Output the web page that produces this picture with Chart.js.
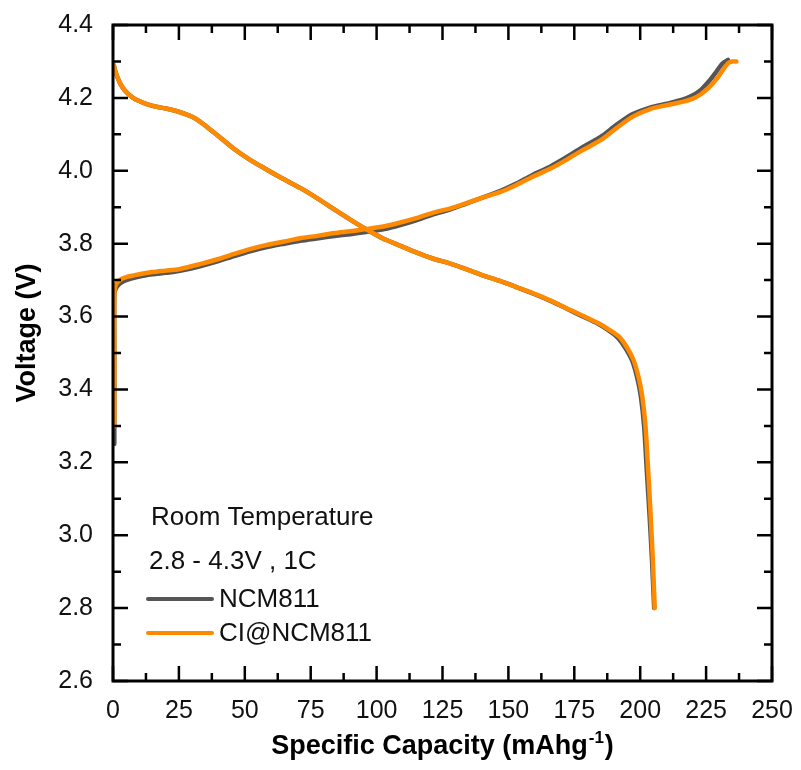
<!DOCTYPE html>
<html>
<head>
<meta charset="utf-8">
<script src="https://cdn.jsdelivr.net/npm/chart.js@4.4.1/dist/chart.umd.min.js"></script>
<style>
  html, body { margin: 0; padding: 0; background: #ffffff; }
  #wrap { width: 801px; height: 770px; }
</style>
</head>
<body>
<div id="wrap"><canvas id="c" width="801" height="770"></canvas></div>
<script>
// ---------- data ----------
const seriesNames = ['NCM811', 'CI@NCM811'];
const seriesColors = ['#555555', '#ff8a00'];
const annotationLines = ['Room Temperature', '2.8 - 4.3V , 1C'];

const xTickValues = [0, 25, 50, 75, 100, 125, 150, 175, 200, 225, 250];
const yTickValues = [2.6, 2.8, 3.0, 3.2, 3.4, 3.6, 3.8, 4.0, 4.2, 4.4];
const xTitle = 'Specific Capacity (mAhg';
const xTitleSup = '-1';
const xTitleEnd = ')';
const yTitle = 'Voltage (V)';

// NCM811 – charge
const ncmChargeCap = [0.5, 0.5, 0.5, 1.0, 2.5, 5, 10, 15, 20, 25, 33, 40, 46, 52, 58, 65, 71, 78, 84, 90, 96, 103, 109, 115, 121, 128, 134, 140, 147, 153, 159, 166, 172, 178, 185, 191, 197, 204, 210, 216, 220, 223, 226, 229, 231.3, 233.3];
const ncmChargeV   = [3.25, 3.50, 3.66, 3.676, 3.690, 3.700, 3.710, 3.716, 3.720, 3.725, 3.738, 3.752, 3.766, 3.779, 3.790, 3.800, 3.808, 3.815, 3.821, 3.826, 3.832, 3.840, 3.851, 3.864, 3.879, 3.894, 3.910, 3.926, 3.945, 3.965, 3.988, 4.012, 4.037, 4.064, 4.093, 4.126, 4.155, 4.174, 4.184, 4.195, 4.207, 4.222, 4.245, 4.273, 4.295, 4.304];
// NCM811 – discharge
const ncmDischCap = [0.3, 0.8, 1.5, 2.7, 4.5, 7.6, 11, 14, 17, 20.5, 24, 27, 30, 33, 36, 39.5, 45.6, 52, 58.4, 64.5, 71, 77.4, 83.5, 90, 96.4, 102.4, 109, 115, 121, 128, 134, 140, 147, 153, 159, 166, 172, 178, 184, 188, 191.5, 194.5, 197, 199, 200.3, 201.5, 202.5, 203.6, 204.5, 205.3];
const ncmDischV   = [4.29, 4.275, 4.26, 4.24, 4.22, 4.20, 4.188, 4.18, 4.175, 4.17, 4.164, 4.157, 4.148, 4.135, 4.118, 4.098, 4.062, 4.030, 4.003, 3.978, 3.953, 3.925, 3.896, 3.866, 3.838, 3.814, 3.794, 3.776, 3.760, 3.745, 3.730, 3.714, 3.697, 3.681, 3.664, 3.643, 3.622, 3.601, 3.580, 3.562, 3.542, 3.512, 3.478, 3.428, 3.378, 3.298, 3.178, 3.048, 2.928, 2.80];

// CI@NCM811 – charge
const ciChargeCap = [0.5, 0.5, 0.5, 1.0, 2.5, 5, 10, 15, 20, 25, 33, 40, 46, 52, 58, 65, 71, 78, 84, 90, 96, 103, 109, 115, 121, 128, 134, 140, 147, 153, 159, 166, 172, 178, 185, 191, 197, 204, 210, 216, 220, 223, 226, 229, 231.5, 233.5, 235, 236.5];
const ciChargeV   = [3.30, 3.50, 3.66, 3.686, 3.700, 3.708, 3.716, 3.722, 3.726, 3.730, 3.744, 3.758, 3.772, 3.785, 3.796, 3.806, 3.815, 3.822, 3.829, 3.834, 3.840, 3.848, 3.858, 3.870, 3.884, 3.897, 3.911, 3.926, 3.942, 3.961, 3.983, 4.006, 4.030, 4.056, 4.084, 4.117, 4.148, 4.170, 4.180, 4.189, 4.198, 4.210, 4.228, 4.252, 4.278, 4.296, 4.300, 4.300];
// CI@NCM811 – discharge
const ciDischCap = [0.3, 0.8, 1.5, 2.7, 4.5, 7.6, 11, 14, 17, 20.5, 24, 27, 30, 33, 36, 39.5, 45.6, 52, 58.4, 64.5, 71, 77.4, 83.5, 90, 96.4, 102.4, 109, 115, 121, 128, 134, 140, 147, 153, 159, 166, 172, 178, 184, 188, 192, 195, 197.5, 199.5, 200.8, 202, 203, 204, 204.8, 205.5];
const ciDischV   = [4.29, 4.275, 4.26, 4.24, 4.22, 4.20, 4.188, 4.18, 4.175, 4.17, 4.164, 4.157, 4.148, 4.135, 4.118, 4.098, 4.062, 4.030, 4.003, 3.978, 3.953, 3.925, 3.896, 3.866, 3.838, 3.814, 3.794, 3.776, 3.760, 3.745, 3.730, 3.714, 3.697, 3.681, 3.665, 3.644, 3.623, 3.603, 3.582, 3.565, 3.545, 3.515, 3.480, 3.430, 3.380, 3.300, 3.180, 3.050, 2.930, 2.800];

// ---------- helpers ----------
const pts = (xs, ys) => xs.map((x, i) => ({ x: x, y: ys[i] }));
const FONT = '"Liberation Sans", Arial, Helvetica, sans-serif';

const lineDs = (label, xs, ys, color, order) => ({
  label: label,
  data: pts(xs, ys),
  borderColor: color,
  backgroundColor: color,
  borderWidth: 4.5,
  pointRadius: 0,
  tension: 0.25,
  fill: false,
  order: order,
  borderCapStyle: 'round',
  borderJoinStyle: 'round'
});

// Plugin: frame, inward ticks on all four sides, titles and in-plot legend
const decor = {
  id: 'decor',
  afterDatasetsDraw(chart) {
    const ctx = chart.ctx;
    const a = chart.chartArea;
    const xs = chart.scales.x, ys = chart.scales.y;
    ctx.save();
    ctx.strokeStyle = '#000';
    ctx.lineCap = 'butt';
    ctx.lineWidth = 2.5;
    const majorLen = 15, minorLen = 8;
    for (let i = 0; i < xTickValues.length; i++) {
      const px = xs.getPixelForValue(xTickValues[i]);
      ctx.beginPath();
      ctx.moveTo(px, a.bottom); ctx.lineTo(px, a.bottom - majorLen);
      ctx.moveTo(px, a.top); ctx.lineTo(px, a.top + majorLen);
      ctx.stroke();
      if (i < xTickValues.length - 1) {
        const pm = xs.getPixelForValue((xTickValues[i] + xTickValues[i + 1]) / 2);
        ctx.beginPath();
        ctx.moveTo(pm, a.bottom); ctx.lineTo(pm, a.bottom - minorLen);
        ctx.moveTo(pm, a.top); ctx.lineTo(pm, a.top + minorLen);
        ctx.stroke();
      }
    }
    for (let i = 0; i < yTickValues.length; i++) {
      const py = ys.getPixelForValue(yTickValues[i]);
      ctx.beginPath();
      ctx.moveTo(a.left, py); ctx.lineTo(a.left + majorLen, py);
      ctx.moveTo(a.right, py); ctx.lineTo(a.right - majorLen, py);
      ctx.stroke();
      if (i < yTickValues.length - 1) {
        const pm = ys.getPixelForValue((yTickValues[i] + yTickValues[i + 1]) / 2);
        ctx.beginPath();
        ctx.moveTo(a.left, pm); ctx.lineTo(a.left + minorLen, pm);
        ctx.moveTo(a.right, pm); ctx.lineTo(a.right - minorLen, pm);
        ctx.stroke();
      }
    }
    ctx.lineWidth = 3;
    ctx.strokeRect(a.left, a.top, a.right - a.left, a.bottom - a.top);

    ctx.fillStyle = '#111';
    ctx.textBaseline = 'middle';
    ctx.textAlign = 'left';
    ctx.font = '26px ' + FONT;
    ctx.fillText(annotationLines[0], 151, 518);
    ctx.fillText(annotationLines[1], 149, 562);
    const legY = [599, 633];
    for (let i = 0; i < seriesNames.length; i++) {
      ctx.strokeStyle = seriesColors[i];
      ctx.lineWidth = 4;
      ctx.lineCap = 'round';
      ctx.beginPath();
      ctx.moveTo(148, legY[i]); ctx.lineTo(212, legY[i]);
      ctx.stroke();
      ctx.fillStyle = '#111';
      ctx.fillText(seriesNames[i], 219, legY[i] + 1);
    }

    ctx.fillStyle = '#000';
    ctx.font = 'bold 27px ' + FONT;
    const supFont = 'bold 17px ' + FONT;
    const w1 = ctx.measureText(xTitle).width;
    const w3 = ctx.measureText(xTitleEnd).width;
    ctx.font = supFont;
    const w2 = ctx.measureText(xTitleSup).width;
    const total = w1 + w2 + w3 + 2;
    const cx = (a.left + a.right) / 2;
    const x0 = cx - total / 2;
    const baseY = 754;
    ctx.textBaseline = 'alphabetic';
    ctx.font = 'bold 27px ' + FONT;
    ctx.fillText(xTitle, x0, baseY);
    ctx.font = supFont;
    ctx.fillText(xTitleSup, x0 + w1 + 1, baseY - 11);
    ctx.font = 'bold 27px ' + FONT;
    ctx.fillText(xTitleEnd, x0 + w1 + w2 + 2, baseY);

    ctx.save();
    ctx.translate(28, 333);
    ctx.rotate(-Math.PI / 2);
    ctx.textAlign = 'center';
    ctx.textBaseline = 'middle';
    ctx.fillText(yTitle, 0, 0);
    ctx.restore();

    ctx.restore();
  }
};

new Chart(document.getElementById('c'), {
  type: 'line',
  data: {
    datasets: [
      lineDs(seriesNames[0] + ' charge', ncmChargeCap, ncmChargeV, seriesColors[0], 1),
      lineDs(seriesNames[0] + ' discharge', ncmDischCap, ncmDischV, seriesColors[0], 1),
      lineDs(seriesNames[1] + ' charge', ciChargeCap, ciChargeV, seriesColors[1], 0),
      lineDs(seriesNames[1] + ' discharge', ciDischCap, ciDischV, seriesColors[1], 0)
    ]
  },
  options: {
    responsive: false,
    animation: false,
    events: [],
    layout: { padding: { top: 25, right: 29, left: 0, bottom: 0 } },
    plugins: { legend: { display: false }, tooltip: { enabled: false }, title: { display: false } },
    scales: {
      x: {
        type: 'linear',
        min: 0, max: 250,
        afterBuildTicks(scale) { scale.ticks = xTickValues.map(v => ({ value: v })); },
        afterFit(scale) { scale.height = 89; scale.paddingLeft = 0; scale.paddingRight = 0; },
        grid: { display: false, drawTicks: false },
        border: { display: false },
        ticks: {
          color: '#111',
          font: { family: FONT, size: 25 },
          padding: 15,
          maxRotation: 0,
          autoSkip: false,
          callback: v => String(v)
        }
      },
      y: {
        type: 'linear',
        min: 2.6, max: 4.4,
        afterBuildTicks(scale) { scale.ticks = yTickValues.map(v => ({ value: v })); },
        afterFit(scale) { scale.width = 113; scale.paddingTop = 0; scale.paddingBottom = 0; },
        grid: { display: false, drawTicks: false },
        border: { display: false },
        ticks: {
          color: '#111',
          font: { family: FONT, size: 25 },
          padding: 20,
          autoSkip: false,
          callback: v => Number(v).toFixed(1)
        }
      }
    }
  },
  plugins: [decor]
});
</script>
</body>
</html>
